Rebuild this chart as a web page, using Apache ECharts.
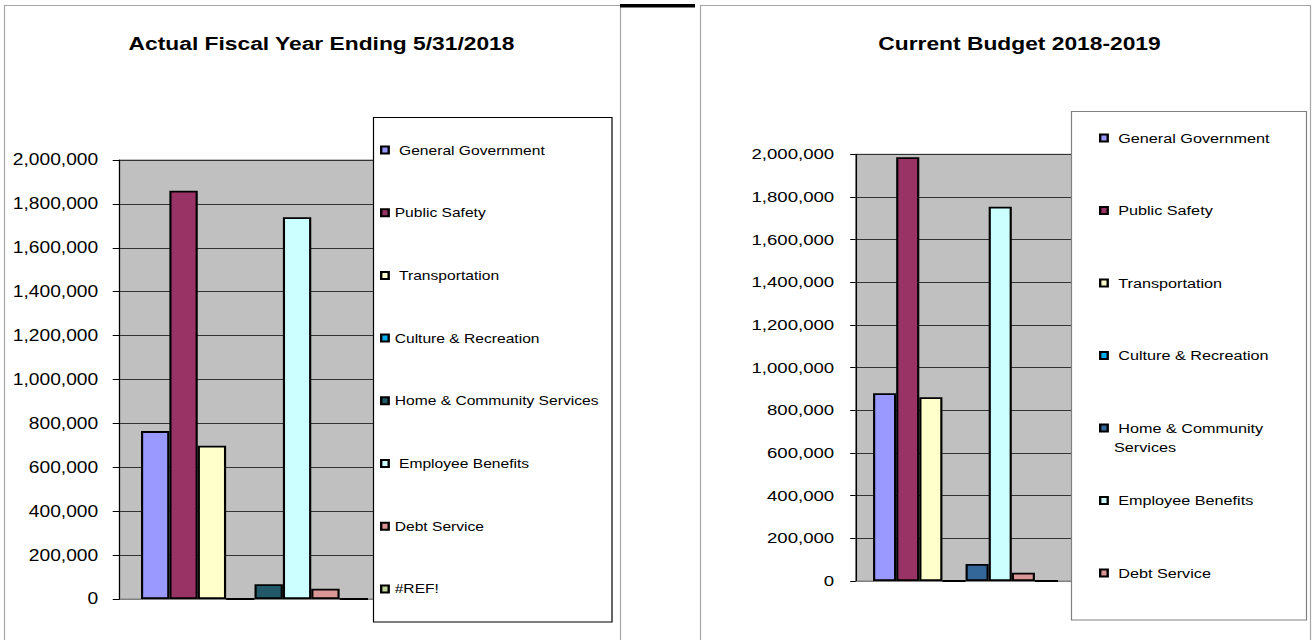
<!DOCTYPE html>
<html>
<head>
<meta charset="utf-8">
<script src="https://cdn.jsdelivr.net/npm/echarts@6/dist/echarts.min.js"></script>
<style>
  html, body { margin: 0; padding: 0; background: #fff; overflow: hidden; }
  #page { width: 1312px; height: 640px; overflow: hidden; position: relative; }
  #chart { width: 1093px; height: 640px; transform-origin: 0 0; }
</style>
</head>
<body>
<div id="page"><div id="chart"></div></div>
<script>
// ---- data ----
const categories = [''];
const seriesNames = [
  'General Government', 'Public Safety', 'Transportation', 'Culture & Recreation',
  'Home & Community Services', 'Employee Benefits', 'Debt Service', '#REF!'
];
const actualFY2018 = [765000, 1860000, 698000, 0, 67000, 1739000, 47000, 0];
const budget2018_2019 = [880000, 1986000, 861000, 0, 80000, 1754000, 39000, 0];
const yTicks = [0, 200000, 400000, 600000, 800000, 1000000, 1200000, 1400000, 1600000, 1800000, 2000000];
const chartTitles = ['Actual Fiscal Year Ending 5/31/2018', 'Current Budget 2018-2019'];

// ---- styling ----
const actualColors = ['#9999FF', '#993366', '#FFFFCC', '#00B0F0', '#215968', '#CCFFFF', '#D99694', '#C3D69B'];
const budgetColors = ['#9999FF', '#993366', '#FFFFCC', '#00B0F0', '#336699', '#CCFFFF', '#D99694', '#C3D69B'];
const FONT = "'Liberation Sans', Arial, sans-serif";

// The whole drawing is laid out on a narrower canvas and widened horizontally.
const INNER_W = 1093;
const S = 1312 / INNER_W;
const px = v => v / S;   // page x -> drawing x

const el = document.getElementById('chart');
el.style.transform = 'scaleX(' + S + ')';
const chart = echarts.init(el, null, { renderer: 'svg', width: INNER_W, height: 640 });

const fmt = v => Number(v).toLocaleString('en-US');
const NB = '\u00a0';

function yAxisFor(gi, fontSize, tickLen) {
  return {
    type: 'value', gridIndex: gi,
    min: yTicks[0], max: yTicks[yTicks.length - 1], interval: yTicks[1] - yTicks[0],
    axisLine: { show: true, lineStyle: { color: '#000', width: 1 } },
    axisTick: { show: true, length: tickLen, lineStyle: { color: '#000', width: 1 } },
    axisLabel: { formatter: fmt, color: '#000', fontSize: fontSize, fontFamily: FONT, margin: px(21.5) },
    splitLine: { show: true, lineStyle: { color: '#333', width: 1 } }
  };
}

function xAxisFor(gi) {
  return {
    type: 'category', gridIndex: gi, data: categories,
    axisLine: { show: true, lineStyle: { color: '#808080', width: 1 } },
    axisTick: { show: false }, axisLabel: { show: false }, splitLine: { show: false }
  };
}

function barsFor(values, colors, gi) {
  return values.map((v, i) => ({
    name: seriesNames[i], type: 'bar', xAxisIndex: gi, yAxisIndex: gi,
    data: [v], barGap: '0%', barCategoryGap: '15.8%',
    itemStyle: { color: colors[i], borderColor: '#000', borderWidth: 1.8 },
    emphasis: { disabled: true }, silent: true
  }));
}

const leftSpaced = ['General Government', 'Transportation', 'Employee Benefits'];
const legendMarker = { borderColor: '#000', borderWidth: 2 };

const option = {
  animation: false,
  backgroundColor: '#fff',
  grid: [
    { left: px(119.7), top: 160, width: px(389.3 - 119.7), height: 439, show: true,
      backgroundColor: '#c0c0c0', borderColor: '#808080', borderWidth: 1, outerBoundsMode: 'none' },
    { left: px(855.7), top: 154.3, width: px(1075.4 - 855.7), height: 426.7, show: true,
      backgroundColor: '#c0c0c0', borderColor: '#808080', borderWidth: 1, outerBoundsMode: 'none' }
  ],
  xAxis: [xAxisFor(0), xAxisFor(1)],
  yAxis: [yAxisFor(0, 16, px(7)), yAxisFor(1, 15.5, px(5.5))],
  legend: [
    {
      z: 20, orient: 'vertical', left: px(380), top: 142, padding: 0,
      itemGap: 46.7, itemWidth: px(7.5), itemHeight: 7, icon: 'rect', selectedMode: false,
      itemStyle: legendMarker,
      textStyle: { fontSize: 13, fontFamily: FONT, color: '#000', lineHeight: 16 },
      formatter: name => (leftSpaced.includes(name) ? NB : '') + name,
      data: seriesNames.map((n, i) => ({ name: n, itemStyle: { color: actualColors[i] } }))
    },
    {
      z: 20, orient: 'vertical', left: px(1099), top: 128.5, padding: 0,
      itemGap: 53.5, itemWidth: px(7.5), itemHeight: 7, icon: 'rect', selectedMode: false,
      itemStyle: legendMarker,
      textStyle: { fontSize: 13.5, fontFamily: FONT, color: '#000', lineHeight: 19 },
      formatter: name => NB + (name === 'Home & Community Services' ? 'Home & Community' : name),
      data: seriesNames.slice(0, 7).map((n, i) => ({ name: n, itemStyle: { color: budgetColors[i] } }))
    }
  ],
  graphic: [
    // panel frames
    { type: 'rect', z: 1, silent: true, shape: { x: px(4.5), y: 5.5, width: px(616), height: 700 },
      style: { fill: 'none', stroke: '#a6a6a6', lineWidth: 1 } },
    { type: 'rect', z: 1, silent: true, shape: { x: px(700.5), y: 5.5, width: px(610), height: 700 },
      style: { fill: 'none', stroke: '#a6a6a6', lineWidth: 1 } },
    { type: 'rect', z: 1, silent: true, shape: { x: px(620), y: 4, width: px(75), height: 3.5 },
      style: { fill: '#000' } },
    // legend boxes
    { type: 'rect', z: 10, silent: true, shape: { x: px(373.5), y: 117.5, width: px(238.5), height: 504.5 },
      style: { fill: '#fff', stroke: '#000', lineWidth: 1 } },
    { type: 'rect', z: 10, silent: true, shape: { x: px(1071.5), y: 111.5, width: px(235), height: 508.5 },
      style: { fill: '#fff', stroke: '#808080', lineWidth: 1 } },
    // wrapped second line of the "Home & Community Services" legend entry
    { type: 'text', z: 21, silent: true, x: px(1114), y: 447,
      style: { text: 'Services', fill: '#000', font: '13.5px ' + FONT, align: 'left', verticalAlign: 'middle' } },
    // titles
    { type: 'text', z: 10, silent: true, x: px(321.5), y: 43,
      style: { text: chartTitles[0], fill: '#000', font: 'bold 19px ' + FONT, align: 'center', verticalAlign: 'middle' } },
    { type: 'text', z: 10, silent: true, x: px(1019.5), y: 43,
      style: { text: chartTitles[1], fill: '#000', font: 'bold 19px ' + FONT, align: 'center', verticalAlign: 'middle' } }
  ],
  series: [
    ...barsFor(actualFY2018, actualColors, 0),
    ...barsFor(budget2018_2019, budgetColors, 1)
  ]
};

chart.setOption(option);
</script>
</body>
</html>
